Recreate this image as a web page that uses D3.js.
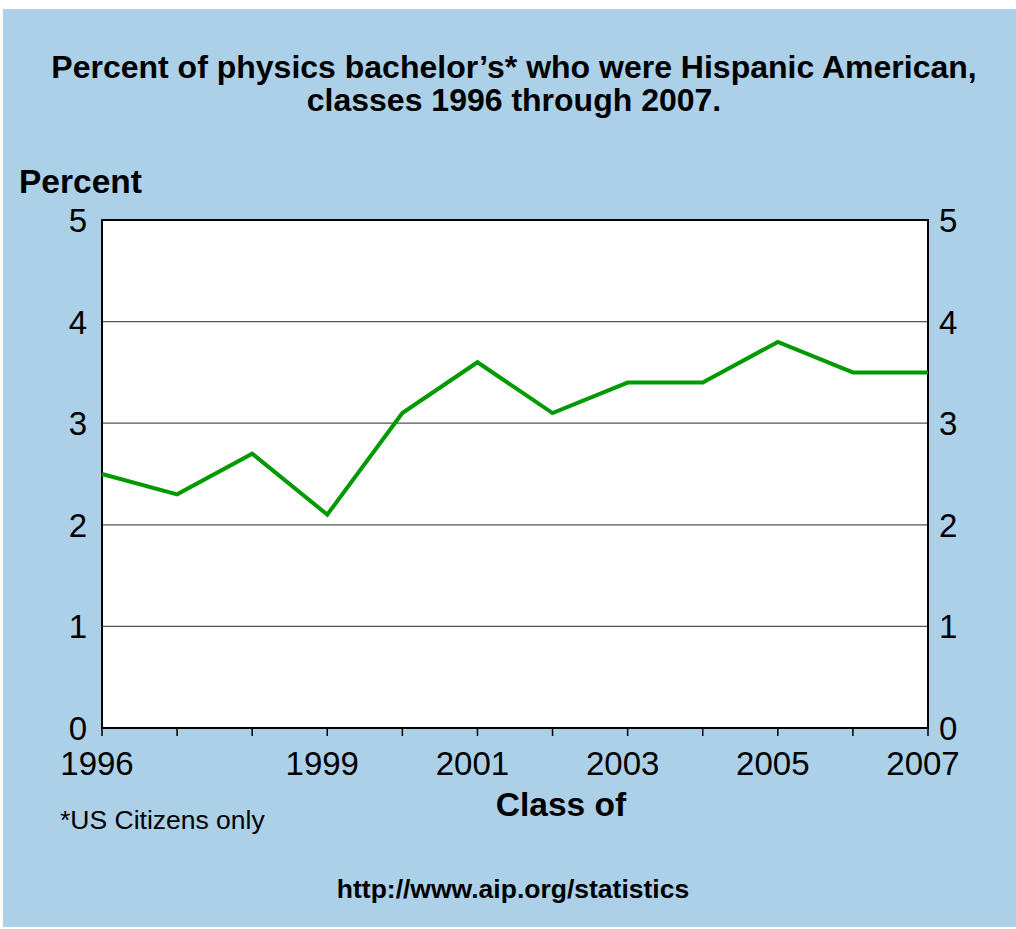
<!DOCTYPE html>
<html>
<head>
<meta charset="utf-8">
<script src="https://d3js.org/d3.v7.min.js"></script>
<style>
  body { margin: 0; background: #fff; }
  text { font-family: "Liberation Sans", Arial, sans-serif; fill: #000; }
</style>
</head>
<body>
<div id="chart"></div>
<script>
var years = [1996, 1997, 1998, 1999, 2000, 2001, 2002, 2003, 2004, 2005, 2006, 2007];
var percents = [2.5, 2.3, 2.7, 2.1, 3.1, 3.6, 3.1, 3.4, 3.4, 3.8, 3.5, 3.5];
var yearLabels = [1996, 1999, 2001, 2003, 2005, 2007];
var yTicks = [0, 1, 2, 3, 4, 5];

var W = 1016, H = 929;
var m = { left: 102, right: 928, top: 220, bottom: 728 };

var svg = d3.select("#chart").append("svg")
  .attr("width", W)
  .attr("height", H);

// blue panel
svg.append("rect")
  .attr("x", 3).attr("y", 9)
  .attr("width", W - 3).attr("height", H - 11)
  .style("fill", "#abd0e7");

var x = d3.scaleLinear().domain([1996, 2007]).range([m.left, m.right]);
var y = d3.scaleLinear().domain([0, 5]).range([m.bottom, m.top]);

// plot area
svg.append("rect")
  .attr("x", m.left).attr("y", m.top)
  .attr("width", m.right - m.left).attr("height", m.bottom - m.top)
  .style("fill", "#fff");

// gridlines
svg.selectAll("line.grid").data(yTicks.filter(function(d) { return d > 0 && d < 5; }))
  .enter().append("line")
  .attr("class", "grid")
  .attr("x1", m.left).attr("x2", m.right)
  .attr("y1", function(d) { return y(d); })
  .attr("y2", function(d) { return y(d); })
  .style("stroke", "#555")
  .style("stroke-width", 1.3);

// frame
svg.append("rect")
  .attr("x", m.left).attr("y", m.top)
  .attr("width", m.right - m.left).attr("height", m.bottom - m.top)
  .style("fill", "none")
  .style("stroke", "#000")
  .style("stroke-width", 2);

// bottom ticks
svg.selectAll("line.xtick").data(years)
  .enter().append("line")
  .attr("class", "xtick")
  .attr("x1", function(d) { return x(d); })
  .attr("x2", function(d) { return x(d); })
  .attr("y1", m.bottom).attr("y2", m.bottom + 8)
  .style("stroke", "#000")
  .style("stroke-width", 1.5);

svg.selectAll("text.xlab").data(yearLabels)
  .enter().append("text")
  .attr("class", "xlab")
  .attr("x", function(d) { return x(d) - 5; })
  .attr("y", 775)
  .attr("text-anchor", "middle")
  .style("font-size", "33px")
  .text(function(d) { return d; });

// left/right value labels
svg.selectAll("text.ylabL").data(yTicks)
  .enter().append("text")
  .attr("class", "ylabL")
  .attr("x", 87)
  .attr("y", function(d) { return y(d) + 12; })
  .attr("text-anchor", "end")
  .style("font-size", "33px")
  .text(function(d) { return d; });

svg.selectAll("text.ylabR").data(yTicks)
  .enter().append("text")
  .attr("class", "ylabR")
  .attr("x", 939)
  .attr("y", function(d) { return y(d) + 12; })
  .attr("text-anchor", "start")
  .style("font-size", "33px")
  .text(function(d) { return d; });

// the line
var line = d3.line()
  .x(function(d, i) { return x(years[i]); })
  .y(function(d) { return y(d); });

svg.append("path")
  .datum(percents)
  .attr("d", line)
  .style("fill", "none")
  .style("stroke", "#009a00")
  .style("stroke-width", 4)
  .style("stroke-linejoin", "miter");

// titles
svg.append("text")
  .attr("x", 514).attr("y", 78)
  .attr("text-anchor", "middle")
  .style("font-size", "32px").style("font-weight", "bold")
  .text("Percent of physics bachelor\u2019s* who were Hispanic American,");
svg.append("text")
  .attr("x", 514).attr("y", 111)
  .attr("text-anchor", "middle")
  .style("font-size", "32px").style("font-weight", "bold")
  .text("classes 1996 through 2007.");

svg.append("text")
  .attr("x", 19).attr("y", 193)
  .style("font-size", "33.5px").style("font-weight", "bold")
  .text("Percent");

svg.append("text")
  .attr("x", 561).attr("y", 816)
  .attr("text-anchor", "middle")
  .style("font-size", "33.5px").style("font-weight", "bold")
  .text("Class of");

svg.append("text")
  .attr("x", 60).attr("y", 829)
  .style("font-size", "26.5px")
  .text("*US Citizens only");

svg.append("text")
  .attr("x", 513).attr("y", 898)
  .attr("text-anchor", "middle")
  .style("font-size", "26.5px").style("font-weight", "bold")
  .text("http://www.aip.org/statistics");
</script>
</body>
</html>
